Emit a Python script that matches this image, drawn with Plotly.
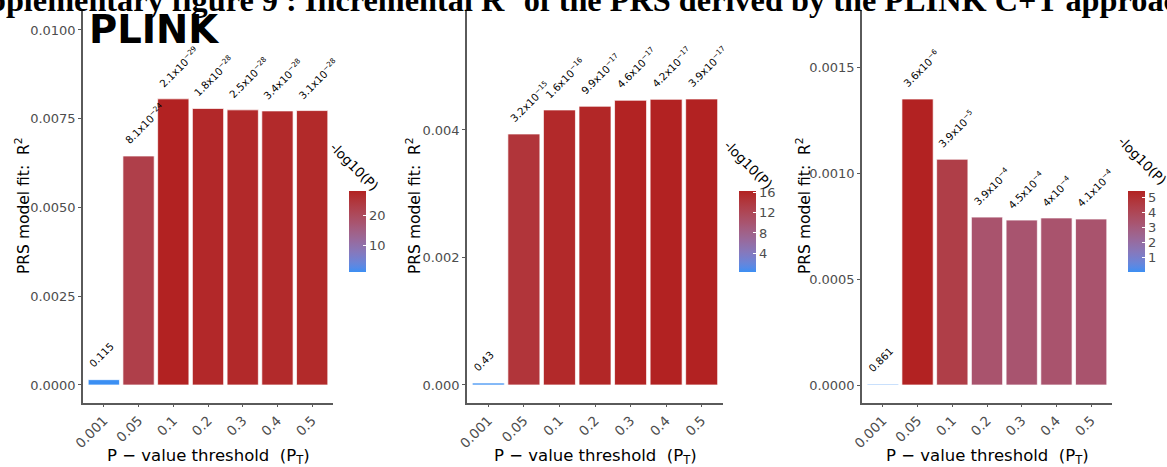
import numpy as np
import plotly.graph_objects as go

# ---------------- data ----------------
categories = ["0.001", "0.05", "0.1", "0.2", "0.3", "0.4", "0.5"]

r2_panel1 = [0.00015, 0.00645, 0.00806, 0.00779, 0.00775, 0.00772, 0.00773]
p_panel1 = [0.115, 8.1e-24, 2.1e-29, 1.8e-28, 2.5e-28, 3.4e-28, 3.1e-28]
labels_panel1 = ["0.115", "8.1x10<sup>−24</sup>", "2.1x10<sup>−29</sup>", "1.8x10<sup>−28</sup>",
                 "2.5x10<sup>−28</sup>", "3.4x10<sup>−28</sup>", "3.1x10<sup>−28</sup>"]

r2_panel2 = [0.00003, 0.003937, 0.004314, 0.004372, 0.004466, 0.004481, 0.004486]
p_panel2 = [0.43, 3.2e-15, 1.6e-16, 9.9e-17, 4.6e-17, 4.2e-17, 3.9e-17]
labels_panel2 = ["0.43", "3.2x10<sup>−15</sup>", "1.6x10<sup>−16</sup>", "9.9x10<sup>−17</sup>",
                 "4.6x10<sup>−17</sup>", "4.2x10<sup>−17</sup>", "3.9x10<sup>−17</sup>"]

r2_panel3 = [0.000004, 0.001349, 0.001065, 0.000792, 0.000778, 0.000788, 0.000783]
p_panel3 = [0.861, 3.6e-6, 3.9e-5, 3.9e-4, 4.5e-4, 4e-4, 4.1e-4]
labels_panel3 = ["0.861", "3.6x10<sup>−6</sup>", "3.9x10<sup>−5</sup>", "3.9x10<sup>−4</sup>",
                 "4.5x10<sup>−4</sup>", "4x10<sup>−4</sup>", "4.1x10<sup>−4</sup>"]

colorbar_ticks1 = [10, 20]
colorbar_ticks2 = [4, 8, 12, 16]
colorbar_ticks3 = [1, 2, 3, 4, 5]

# ---------------- colour scale (CIELAB interpolation like ggplot) ----------------
LOW, HIGH = "#3B8FF3", "#B22222"


def hex_to_rgb(h):
    h = h.lstrip("#")
    return np.array([int(h[i:i + 2], 16) / 255 for i in (0, 2, 4)])


def rgb_to_lab(rgb):
    c = np.where(rgb <= 0.04045, rgb / 12.92, ((rgb + 0.055) / 1.055) ** 2.4)
    m = np.array([[0.4124, 0.3576, 0.1805], [0.2126, 0.7152, 0.0722], [0.0193, 0.1192, 0.9505]])
    xyz = m @ c / np.array([0.95047, 1.0, 1.08883])
    f = np.where(xyz > 0.008856, np.cbrt(xyz), 7.787 * xyz + 16 / 116)
    return np.array([116 * f[1] - 16, 500 * (f[0] - f[1]), 200 * (f[1] - f[2])])


def lab_to_rgb(lab):
    fy = (lab[0] + 16) / 116
    fx = fy + lab[1] / 500
    fz = fy - lab[2] / 200
    f = np.array([fx, fy, fz])
    xyz = np.where(f ** 3 > 0.008856, f ** 3, (f - 16 / 116) / 7.787) * np.array([0.95047, 1.0, 1.08883])
    mi = np.array([[3.2406, -1.5372, -0.4986], [-0.9689, 1.8758, 0.0415], [0.0557, -0.2040, 1.0570]])
    c = mi @ xyz
    c = np.where(c <= 0.0031308, 12.92 * c, 1.055 * np.clip(c, 0, None) ** (1 / 2.4) - 0.055)
    c = np.clip(c, 0, 1)
    return "rgb(%d,%d,%d)" % tuple(np.round(c * 255).astype(int))


lab_lo, lab_hi = rgb_to_lab(hex_to_rgb(LOW)), rgb_to_lab(hex_to_rgb(HIGH))
colorscale = [[float(t), lab_to_rgb(lab_lo + (lab_hi - lab_lo) * t)] for t in np.linspace(0, 1, 21)]

W, H = 1167, 467


def px_x(v):
    return v / W


def px_y(v):
    return 1 - v / H


ydom = [px_y(402.7), px_y(10)]
xdoms = [[px_x(83), px_x(333)], [px_x(467), px_x(723)], [px_x(862), px_x(1112)]]
yranges = [[-0.000499, 0.010563], [-0.000278, 0.005882], [-0.0000835, 0.001769]]
ytickvals = [[0, 0.0025, 0.005, 0.0075, 0.01], [0, 0.002, 0.004], [0, 0.0005, 0.001, 0.0015]]
ytickfmt = [".4f", ".3f", ".4f"]
cb_x = [349, 739, 1128]
cb_title_pos = [(354, 166), (748, 164), (1142, 160)]
ytitle_x = [22, 413, 803]

panels = [
    (r2_panel1, p_panel1, labels_panel1, colorbar_ticks1),
    (r2_panel2, p_panel2, labels_panel2, colorbar_ticks2),
    (r2_panel3, p_panel3, labels_panel3, colorbar_ticks3),
]

fig = go.Figure()
annotations = []
layout = {}
GREY = "#4d4d4d"
AXC = "#5a5a5a"

for i, (r2, p, labs, cbt) in enumerate(panels):
    k = "" if i == 0 else str(i + 1)
    logp = -np.log10(np.array(p))
    fig.add_trace(go.Bar(
        x=categories, y=r2, xaxis="x" + k, yaxis="y" + k,
        marker=dict(color=logp, coloraxis="coloraxis" + k,
                    line=dict(color="white", width=0.7)),
        showlegend=False, hoverinfo="skip",
    ))
    layout["xaxis" + k] = dict(
        domain=xdoms[i], anchor="y" + k, type="category", categoryorder="array",
        categoryarray=categories, range=[-0.6, 6.6], showline=True, linecolor=AXC,
        linewidth=1.5, ticks="outside", ticklen=3, tickcolor=AXC, tickangle=-45,
        tickfont=dict(family="DejaVu Sans", size=13.5, color=GREY), showgrid=False,
        zeroline=False, fixedrange=True, automargin=False,
    )
    layout["yaxis" + k] = dict(
        domain=ydom, anchor="x" + k, range=yranges[i], tickvals=ytickvals[i],
        tickformat=ytickfmt[i], showline=True, linecolor=AXC, linewidth=1.5,
        ticks="outside", ticklen=3, tickcolor=AXC,
        tickfont=dict(family="DejaVu Sans", size=13, color=GREY), showgrid=False,
        zeroline=False, fixedrange=True, automargin=False,
    )
    layout["coloraxis" + k] = dict(
        colorscale=colorscale, cmin=float(logp.min()), cmax=float(logp.max()),
        colorbar=dict(
            x=px_x(cb_x[i]), xanchor="left", xpad=0, ypad=0, y=px_y(231), yanchor="middle",
            len=81, lenmode="pixels", thickness=17, thicknessmode="pixels", outlinewidth=0,
            tickvals=cbt, ticks="inside", ticklen=3, tickcolor="white",
            tickfont=dict(family="DejaVu Sans", size=13, color=GREY), title=dict(text=""),
        ),
    )
    # bar labels (category index positions)
    for j, (v, t) in enumerate(zip(r2, labs)):
        annotations.append(dict(
            x=j, y=v, xref="x" + k, yref="y" + k, text=t, showarrow=False,
            textangle=-45, xanchor="left", yanchor="bottom", xshift=-20, yshift=7,
            font=dict(family="DejaVu Sans", size=10.3, color="black"),
        ))
    # colorbar title
    tx, ty = cb_title_pos[i]
    annotations.append(dict(
        x=px_x(tx), y=px_y(ty), xref="paper", yref="paper", text="-log10(P)",
        showarrow=False, textangle=45, xanchor="center", yanchor="middle",
        font=dict(family="DejaVu Sans", size=13.5, color="black"),
    ))
    # y axis title
    annotations.append(dict(
        x=px_x(ytitle_x[i]), y=px_y(206), xref="paper", yref="paper",
        text="PRS model fit:\u00a0\u00a0R<sup>2</sup>", showarrow=False, textangle=-90,
        xanchor="center", yanchor="middle",
        font=dict(family="DejaVu Sans", size=15.5, color="black"),
    ))
    # x axis title
    xc = (xdoms[i][0] + xdoms[i][1]) / 2
    annotations.append(dict(
        x=xc, y=px_y(456), xref="paper", yref="paper",
        text="P − value threshold\u00a0\u00a0(P<sub>T</sub>)", showarrow=False,
        xanchor="center", yanchor="middle",
        font=dict(family="DejaVu Sans", size=16.5, color="black"),
    ))

annotations.append(dict(
    x=px_x(154), y=px_y(29), xref="paper", yref="paper", text="<b>PLINK</b>",
    showarrow=False, xanchor="center", yanchor="middle",
    font=dict(family="DejaVu Sans", size=38.5, color="black"),
))
annotations.append(dict(
    x=px_x(-50), y=px_y(20), xref="paper", yref="paper",
    text="<b>Supplementary figure 9 : Incremental R<sup>2</sup> of the PRS derived by the PLINK C+T approach</b>",
    showarrow=False, xanchor="left", yanchor="bottom",
    font=dict(family="Liberation Serif", size=32.3, color="black"),
))

fig.update_layout(
    width=W, height=H, margin=dict(l=0, r=0, t=0, b=0, autoexpand=False),
    paper_bgcolor="white", plot_bgcolor="white", bargap=0.1,
    annotations=annotations, **layout,
)

fig.write_html("out.html")
